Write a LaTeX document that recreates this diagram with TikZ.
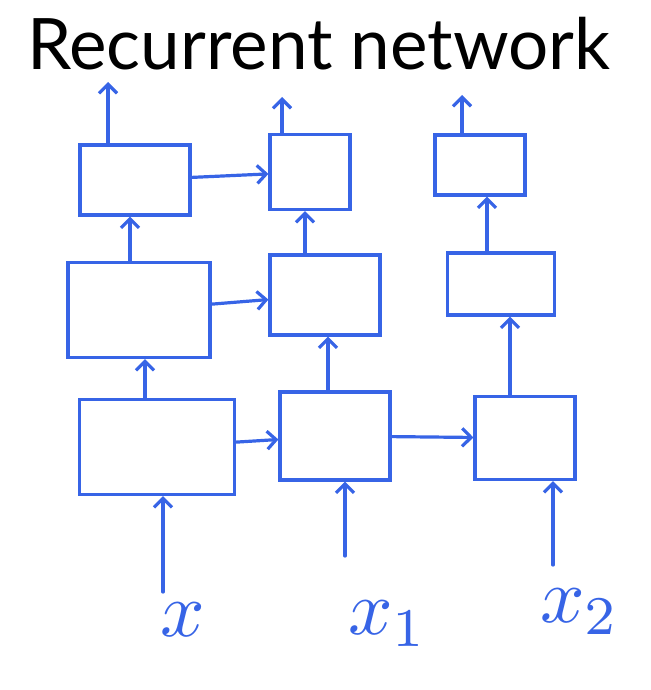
\documentclass[tikz,border=0pt]{standalone}
\usepackage{fontspec}
\setmainfont{Lato}
\usetikzlibrary{arrows.meta}
\definecolor{ink}{RGB}{55,100,230}
\newcommand{\biglab}[1]{\scalebox{7.8}{$#1$}}
\tikzset{
  cell/.style={draw=ink, line width=3.2pt, inner sep=0pt},
  arr/.style={draw=ink, line width=3.2pt, line cap=round, -{Straight Barb[length=9pt,width=18pt]}},
  lab/.style={text=ink, inner sep=0pt}
}
\begin{document}
\begin{tikzpicture}[x=1pt,y=-1pt]
\useasboundingbox (0,0) rectangle (650,690);
\node[anchor=base west, font=\fontsize{71}{71}\selectfont, inner sep=0pt] (title) at (27,70) {Recurrent network};
% top row
\node[cell, minimum width=110pt, minimum height=70pt] (a1) at (135,180) {};
\node[cell, minimum width=80pt, minimum height=75pt] (a2) at (310,172) {};
\node[cell, minimum width=90pt, minimum height=60pt] (a3) at (480,165) {};
% middle row
\node[cell, minimum width=142pt, minimum height=95pt] (b1) at (139,310) {};
\node[cell, minimum width=110pt, minimum height=80pt] (b2) at (325,295) {};
\node[cell, minimum width=107pt, minimum height=62pt] (b3) at (501,284) {};
% bottom row
\node[cell, minimum width=155pt, minimum height=95pt] (c1) at (157,447) {};
\node[cell, minimum width=110pt, minimum height=88pt] (c2) at (335,436) {};
\node[cell, minimum width=100pt, minimum height=83pt] (c3) at (525,438) {};
% input labels
\node[lab] (lx) at (183,620) {\biglab{x}};
\node[lab] (lx1) at (388,624) {\biglab{x_1}};
\node[lab] (lx2) at (580,612) {\biglab{x_2}};
% column coordinates
\coordinate (s1) at (163,592);
\coordinate (s2) at (345,556);
\coordinate (s3) at (553,565);
\coordinate (v1) at (145,0);
\coordinate (v2) at (328,0);
\coordinate (v3) at (510,0);
\coordinate (w1) at (130,0);
\coordinate (w2) at (305,0);
\coordinate (w3) at (487,0);
\coordinate (o1) at (108,82);
\coordinate (o2) at (282,97);
\coordinate (o3) at (462,95);
% inputs
\draw[arr] (s1) -- (c1.south -| s1);
\draw[arr] (s2) -- (c2.south -| s2);
\draw[arr] (s3) -- (c3.south -| s3);
% bottom to middle
\draw[arr] (c1.north -| v1) -- (b1.south -| v1);
\draw[arr] (c2.north -| v2) -- (b2.south -| v2);
\draw[arr] (c3.north -| v3) -- (b3.south -| v3);
% middle to top
\draw[arr] (b1.north -| w1) -- (a1.south -| w1);
\draw[arr] (b2.north -| w2) -- (a2.south -| w2);
\draw[arr] (b3.north -| w3) -- (a3.south -| w3);
% outputs
\draw[arr] (a1.north -| o1) -- (o1);
\draw[arr] (a2.north -| o2) -- (o2);
\draw[arr] (a3.north -| o3) -- (o3);
% recurrent connections
\draw[arr] (a1) -- (a2);
\draw[arr] (b1) -- (b2);
\draw[arr] (c1) -- (c2);
\draw[arr] (c2) -- (c3);
\end{tikzpicture}
\end{document}
